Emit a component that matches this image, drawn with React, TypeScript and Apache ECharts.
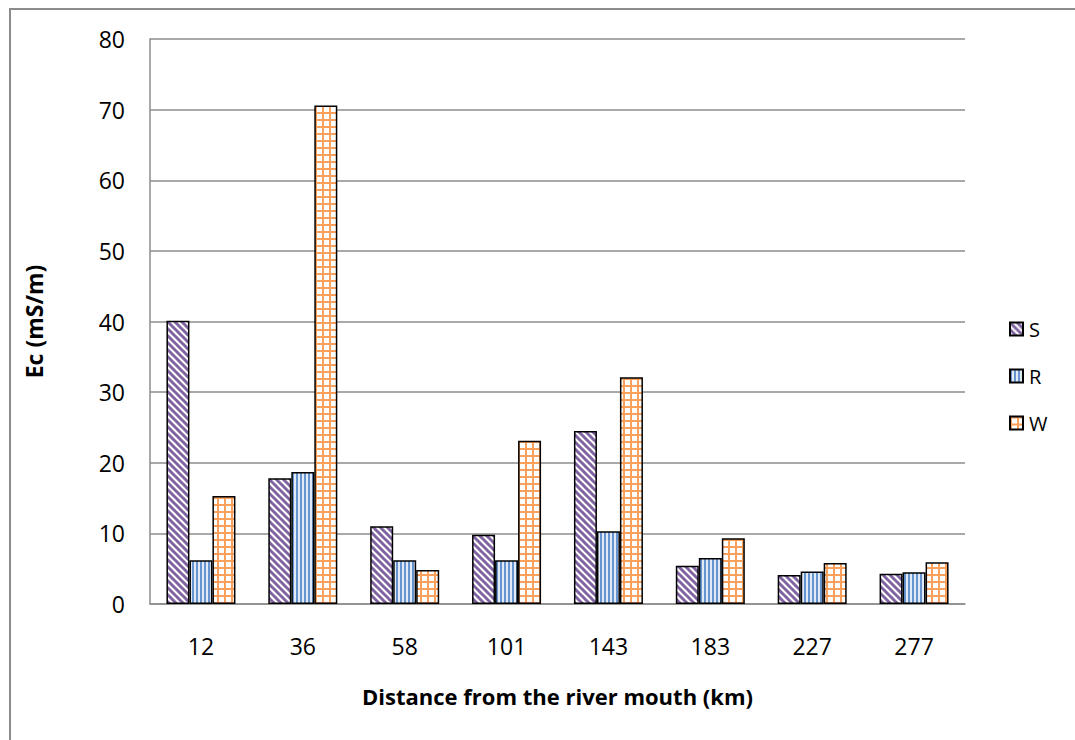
import React, { useEffect, useRef } from "react";
import * as echarts from "echarts";

// Sampling sites: distance from the river mouth (km)
const distances = ["12", "36", "58", "101", "143", "183", "227", "277"];

// Electrical conductivity, mS/m
const seriesS = [40.1, 17.8, 11.0, 9.8, 24.5, 5.4, 4.1, 4.3];
const seriesR = [6.2, 18.7, 6.2, 6.2, 10.3, 6.5, 4.6, 4.5];
const seriesW = [15.3, 70.6, 4.8, 23.1, 32.1, 9.3, 5.8, 5.9];

const yTicks = { min: 0, max: 80, step: 10 };

function makeCanvas(size: number, draw: (ctx: CanvasRenderingContext2D) => void) {
  const c = document.createElement("canvas");
  c.width = size;
  c.height = size;
  const ctx = c.getContext("2d")!;
  draw(ctx);
  return c;
}

// Purple diagonal hatching
function diagonalPattern() {
  const n = 7;
  const canvas = makeCanvas(n, (ctx) => {
    ctx.fillStyle = "#ffffff";
    ctx.fillRect(0, 0, n, n);
    ctx.strokeStyle = "#8064A2";
    ctx.lineWidth = 3;
    for (const x0 of [-n, 0, n]) {
      ctx.beginPath();
      ctx.moveTo(x0 - 1, -1);
      ctx.lineTo(x0 + n + 1, n + 1);
      ctx.stroke();
    }
  });
  return { image: canvas, repeat: "repeat" as const, imageWidth: n, imageHeight: n };
}

// Blue vertical stripes
function verticalPattern() {
  const n = 4;
  const canvas = makeCanvas(n, (ctx) => {
    ctx.fillStyle = "#e1ebf7";
    ctx.fillRect(0, 0, n, n);
    ctx.fillStyle = "#6794cf";
    ctx.fillRect(0, 0, 2, n);
  });
  return { image: canvas, repeat: "repeat" as const, imageWidth: n, imageHeight: n };
}

// Orange grid
function gridPattern() {
  const n = 7;
  const canvas = makeCanvas(n, (ctx) => {
    ctx.fillStyle = "#ffffff";
    ctx.fillRect(0, 0, n, n);
    ctx.fillStyle = "#f9a15c";
    ctx.fillRect(0, 0, 2, n);
    ctx.fillRect(0, 0, n, 2);
  });
  return { image: canvas, repeat: "repeat" as const, imageWidth: n, imageHeight: n };
}

const FONT = "'Open Sans', 'Noto Sans', sans-serif";

export default function App() {
  const ref = useRef<HTMLDivElement>(null);

  useEffect(() => {
    if (!ref.current) return;
    const chart = echarts.init(ref.current, undefined, { renderer: "svg" });

    const barStyle = (fill: any) => ({
      color: fill,
      borderColor: "#000000",
      borderWidth: 1.5,
    });

    chart.setOption({
      animation: false,
      backgroundColor: "#ffffff",
      textStyle: { fontFamily: FONT },
      grid: { left: 150, right: 110, top: 39, bottom: 136 },
      legend: {
        orient: "vertical",
        left: 1004,
        top: 314,
        itemWidth: 13,
        itemHeight: 13,
        itemGap: 27,
        icon: "rect",
        data: ["S", "R", "W"],
        textStyle: { fontSize: 20, color: "#000", fontFamily: FONT, padding: [0, 0, 0, 1] },
      },
      xAxis: {
        type: "category",
        data: distances,
        axisLine: { show: true, lineStyle: { color: "#8c8c8c", width: 1.5 } },
        axisTick: { show: false },
        axisLabel: { fontSize: 23, color: "#000", margin: 30, fontFamily: FONT },
        name: "Distance from the river mouth (km)",
        nameLocation: "middle",
        nameGap: 81,
        nameTextStyle: { fontSize: 22, fontWeight: "bold", color: "#000", fontFamily: FONT },
      },
      yAxis: {
        type: "value",
        min: yTicks.min,
        max: yTicks.max,
        interval: yTicks.step,
        axisLine: { show: true, lineStyle: { color: "#8c8c8c", width: 1.5 } },
        axisTick: { show: false },
        splitLine: { lineStyle: { color: "#8c8c8c", width: 1.5 } },
        axisLabel: { fontSize: 23, color: "#000", margin: 25, fontFamily: FONT },
        name: "Ec (mS/m)",
        nameLocation: "middle",
        nameGap: 105,
        nameTextStyle: { fontSize: 23, fontWeight: "bold", color: "#000", fontFamily: FONT },
      },
      series: [
        { name: "S", type: "bar", data: seriesS, barWidth: 23, barGap: "0%", itemStyle: barStyle(diagonalPattern()) },
        { name: "R", type: "bar", data: seriesR, barWidth: 23, barGap: "0%", itemStyle: barStyle(verticalPattern()) },
        { name: "W", type: "bar", data: seriesW, barWidth: 23, barGap: "0%", itemStyle: barStyle(gridPattern()) },
      ],
      graphic: [
        {
          type: "rect",
          silent: true,
          shape: { x: 10, y: 9, width: 1100, height: 800 },
          style: { fill: "none", stroke: "#8c8c8c", lineWidth: 2 },
        },
      ],
    });

    return () => chart.dispose();
  }, []);

  return (
    <div
      ref={ref}
      style={{ position: "fixed", left: 0, top: 0, width: 1075, height: 740 }}
    />
  );
}
